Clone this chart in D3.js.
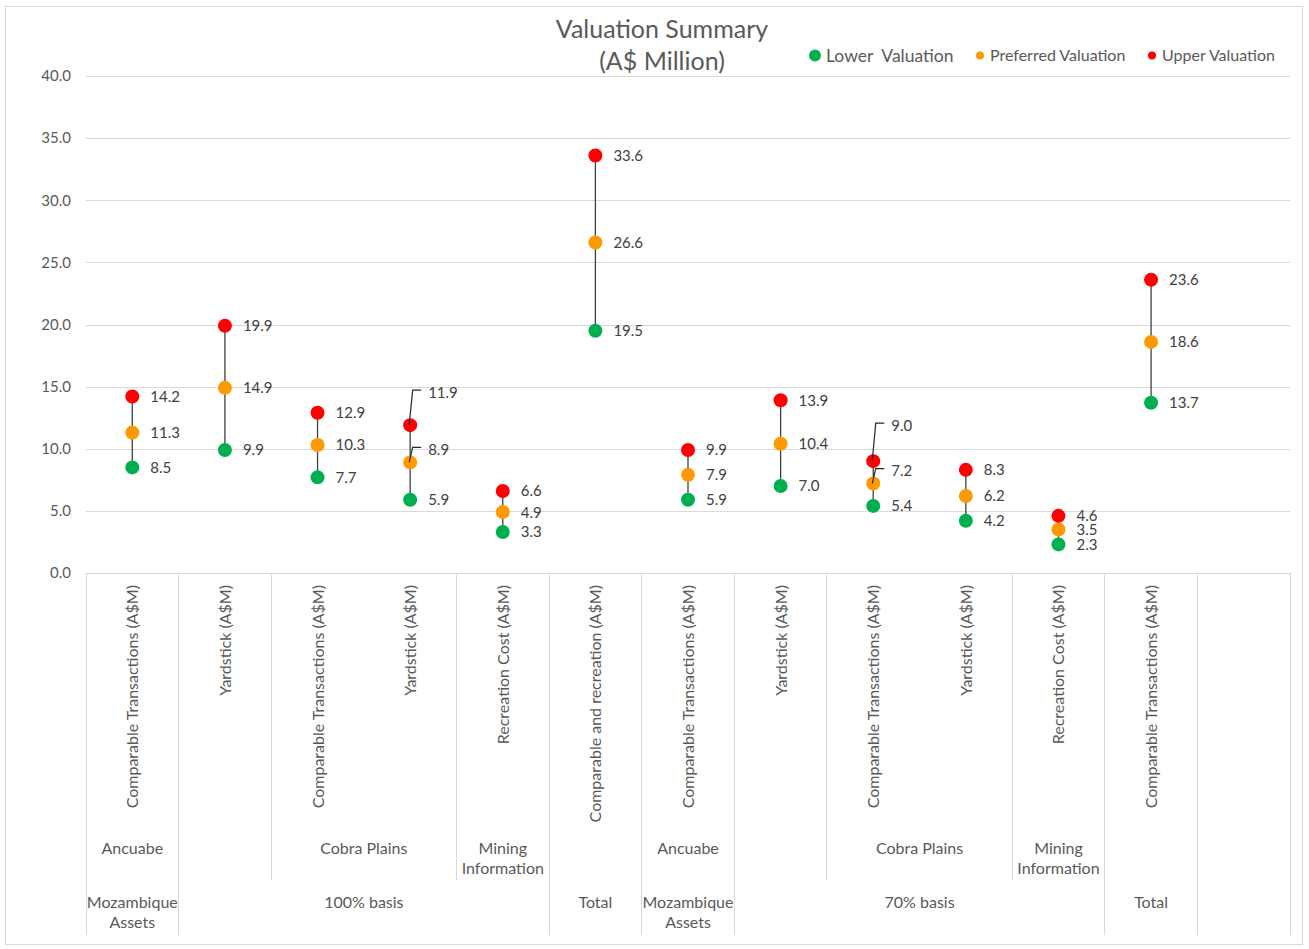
<!DOCTYPE html>
<html>
<head>
<meta charset="utf-8">
<script src="https://cdn.jsdelivr.net/npm/d3@7"></script>
<style>
  body { margin: 0; background: #fff; }
  svg { display: block; }
  text { font-family: Lato, "Open Sans", sans-serif; }
</style>
</head>
<body>
<svg id="chart" width="1309" height="949"></svg>
<script>
// Valuation methods (innermost category level); the last slot is left empty
const methods = [
  "Comparable Transactions (A$M)", "Yardstick (A$M)", "Comparable Transactions (A$M)",
  "Yardstick (A$M)", "Recreation Cost (A$M)", "Comparable and recreation (A$M)",
  "Comparable Transactions (A$M)", "Yardstick (A$M)", "Comparable Transactions (A$M)",
  "Yardstick (A$M)", "Recreation Cost (A$M)", "Comparable Transactions (A$M)", ""
];
// Asset / project (middle level)
const assets = [
  "Ancuabe", "", "Cobra Plains", "Cobra Plains", "Mining Information", "",
  "Ancuabe", "", "Cobra Plains", "Cobra Plains", "Mining Information", "", ""
];
// Basis (outer level)
const bases = [
  "Mozambique Assets", "100% basis", "100% basis", "100% basis", "100% basis", "Total",
  "Mozambique Assets", "70% basis", "70% basis", "70% basis", "70% basis", "Total", ""
];

const lowerValues     = [8.5, 9.9, 7.7, 5.9, 3.3, 19.5, 5.9, 7.0, 5.4, 4.2, 2.3, 13.7, null];
const preferredValues = [11.3, 14.9, 10.3, 8.9, 4.9, 26.6, 7.9, 10.4, 7.2, 6.2, 3.5, 18.6, null];
const upperValues     = [14.2, 19.9, 12.9, 11.9, 6.6, 33.6, 9.9, 13.9, 9.0, 8.3, 4.6, 23.6, null];

const seriesNames = ["Lower  Valuation", "Preferred Valuation", "Upper Valuation"];
const yTicks = [0, 5, 10, 15, 20, 25, 30, 35, 40];

// ---- presentation ----
const colors = ["#00B050", "#FF9900", "#FF0000"];
const axisGrey = "#595959";
const gridGrey = "#d9d9d9";
// labels that are pulled up with a leader line (slot-series -> vertical offset in px)
const labelShift = { "3-2": -33, "3-1": -13, "8-2": -36, "8-1": -13 };

const svg = d3.select("#chart");
const W = 1309, H = 949;
const plot = { left: 86, right: 1290, top: 76, bottom: 573 };
const catBottom = 935, level2Bottom = 880;

// chart frame
svg.append("rect")
  .attr("x", 5.5).attr("y", 6.5).attr("width", W - 12).attr("height", H - 11)
  .attr("fill", "#fff").attr("stroke", gridGrey).attr("stroke-width", 1);

const x = d3.scaleBand().domain(d3.range(methods.length)).range([plot.left, plot.right]).padding(0);
const y = d3.scaleLinear().domain([0, 40]).range([plot.bottom, plot.top]);
const cx = i => x(i) + x.bandwidth() / 2;

// grid lines + y axis labels
const yAxis = d3.axisLeft(y).tickValues(yTicks).tickFormat(d3.format(".1f"))
  .tickSize(-(plot.right - plot.left)).tickPadding(15);
const gy = svg.append("g").attr("transform", `translate(${plot.left},0)`).call(yAxis);
gy.select(".domain").remove();
gy.selectAll(".tick line").attr("stroke", gridGrey).attr("stroke-width", 1)
  .attr("shape-rendering", "crispEdges");
gy.selectAll(".tick text").attr("fill", axisGrey).style("font-size", "15px")
  .style("font-family", "Lato, sans-serif");

// category area: separators between groups
function boundaryLevel(i) {
  // i = index of slot on the right of the boundary
  if (i === 0 || i === methods.length) return 3;
  if (bases[i] !== bases[i - 1]) return 3;
  if (assets[i] !== assets[i - 1]) return 2;
  return 1;
}
const sep = svg.append("g").attr("stroke", gridGrey).attr("stroke-width", 1)
  .attr("shape-rendering", "crispEdges");
d3.range(methods.length + 1).forEach(i => {
  const lvl = boundaryLevel(i);
  if (lvl < 2) return;
  const xp = i === methods.length ? plot.right : x(i);
  sep.append("line").attr("x1", xp).attr("x2", xp)
    .attr("y1", plot.bottom).attr("y2", lvl === 3 ? catBottom : level2Bottom);
});

// innermost level labels (rotated)
svg.append("g").selectAll("text").data(methods).join("text")
  .attr("transform", (d, i) => `translate(${cx(i) + 6},${plot.bottom + 12}) rotate(-90)`)
  .attr("text-anchor", "end")
  .attr("fill", axisGrey).style("font-size", "16px")
  .text(d => d);

// group consecutive equal labels
function groups(labels, parent) {
  const out = [];
  labels.forEach((lab, i) => {
    const last = out[out.length - 1];
    if (last && last.label === lab && (!parent || parent[i] === parent[i - 1])) last.end = i;
    else out.push({ label: lab, start: i, end: i });
  });
  return out.filter(g => g.label);
}

function wrapLabel(sel, maxWidth) {
  sel.each(function () {
    const t = d3.select(this);
    const words = t.text().split(/\s+/);
    const xx = t.attr("x");
    t.text(null);
    let line = [], tspan = t.append("tspan").attr("x", xx).attr("dy", 0);
    words.forEach(w => {
      line.push(w);
      tspan.text(line.join(" "));
      if (tspan.node().getComputedTextLength() > maxWidth && line.length > 1) {
        line.pop();
        tspan.text(line.join(" "));
        line = [w];
        tspan = t.append("tspan").attr("x", xx).attr("dy", "1.25em").text(w);
      }
    });
  });
}

function groupCenter(g) { return (x(g.start) + x(g.end) + x.bandwidth()) / 2; }

svg.append("g").selectAll("text").data(groups(assets, bases)).join("text")
  .attr("x", groupCenter).attr("y", 854)
  .attr("text-anchor", "middle").attr("fill", axisGrey).style("font-size", "16px")
  .text(d => d.label)
  .call(wrapLabel, x.bandwidth() - 1);

svg.append("g").selectAll("text").data(groups(bases)).join("text")
  .attr("x", groupCenter).attr("y", 908)
  .attr("text-anchor", "middle").attr("fill", axisGrey).style("font-size", "16px")
  .text(d => d.label)
  .call(wrapLabel, x.bandwidth() - 1);

// connecting range lines
const rows = d3.range(methods.length)
  .filter(i => lowerValues[i] != null)
  .map(i => ({ i, vals: [lowerValues[i], preferredValues[i], upperValues[i]] }));

svg.append("g").selectAll("line").data(rows).join("line")
  .attr("x1", d => cx(d.i)).attr("x2", d => cx(d.i))
  .attr("y1", d => y(d.vals[0])).attr("y2", d => y(d.vals[2]))
  .attr("stroke", "#404040").attr("stroke-width", 1.3);

// markers
const marks = rows.flatMap(r => r.vals.map((v, s) => ({ i: r.i, s, v })));
svg.append("g").selectAll("circle").data(marks).join("circle")
  .attr("cx", d => cx(d.i)).attr("cy", d => y(d.v)).attr("r", 7)
  .attr("fill", d => colors[d.s]);

// value labels (+ leader lines where a label is pulled up)
const fmt = d3.format(".1f");
const lab = svg.append("g");
marks.forEach(d => {
  const shift = labelShift[`${d.i}-${d.s}`] || 0;
  const px = cx(d.i), py = y(d.v), ly = py + shift;
  if (shift) {
    lab.append("path")
      .attr("d", `M${px - 1},${py} L${px + 2.5},${ly - 2} L${px + 11},${ly - 2}`)
      .attr("fill", "none").attr("stroke", "#262626").attr("stroke-width", 1.2);
  }
  lab.append("text")
    .attr("x", px + 18).attr("y", ly).attr("dy", "0.36em")
    .attr("fill", "#404040").style("font-size", "15px")
    .text(fmt(d.v));
});

// title
const title = svg.append("text").attr("x", 662).attr("y", 38)
  .attr("text-anchor", "middle").attr("fill", axisGrey).style("font-size", "25px");
title.append("tspan").attr("x", 662).text("Valuation Summary");
title.append("tspan").attr("x", 662).attr("dy", 32).text("(A$ Million)");

// legend
const legendItems = [
  { name: seriesNames[0], cx: 815, r: 6, tx: 826, size: 17.5 },
  { name: seriesNames[1], cx: 980, r: 4, tx: 990, size: 16 },
  { name: seriesNames[2], cx: 1152, r: 4, tx: 1162, size: 16 }
];
const lg = svg.append("g");
legendItems.forEach((it, k) => {
  lg.append("circle").attr("cx", it.cx).attr("cy", 55.5).attr("r", it.r).attr("fill", colors[k]);
  lg.append("text").attr("x", it.tx).attr("y", 55.5).attr("dy", "0.35em")
    .attr("fill", axisGrey).style("font-size", it.size + "px").style("white-space", "pre")
    .text(it.name);
});
</script>
</body>
</html>
